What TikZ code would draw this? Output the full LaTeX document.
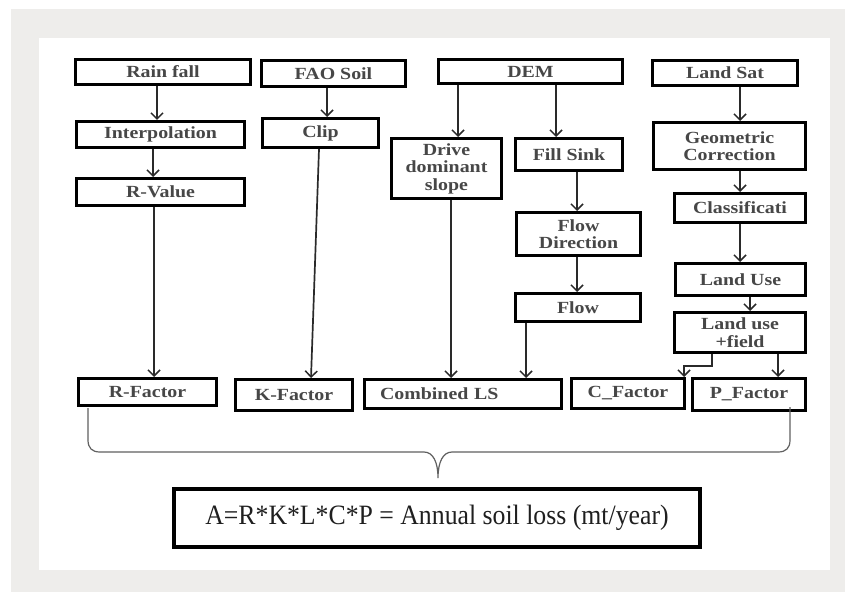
\documentclass[tikz,border=0pt]{standalone}
\usepackage{fontspec}
\usetikzlibrary{arrows.meta}
\newfontfamily\boxfont[FakeStretch=1.17]{Liberation Serif}
\newfontfamily\formfont[FakeStretch=0.92]{Liberation Serif}
\definecolor{bggray}{HTML}{EEEDEB}
\definecolor{txtgray}{HTML}{474747}
\definecolor{arrgray}{HTML}{2A2A2A}
\definecolor{bracegray}{HTML}{606060}
\tikzset{
  box/.style={draw=black, line width=3pt, inner sep=0pt, align=center, text=txtgray,
    font=\boxfont\bfseries\fontsize{17}{17.5}\selectfont},
  arr/.style={draw=arrgray, line width=1.7pt, -{Straight Barb[length=6pt,width=12pt,line width=1.5pt]}},
  bracestyle/.style={draw=bracegray, line width=1.2pt},
  formbox/.style={draw=black, line width=4.5pt, inner sep=0pt, text=black!88,
    font=\formfont\fontsize{28}{30}\selectfont}
}
\begin{document}
\begin{tikzpicture}[x=1pt,y=-1pt]
\useasboundingbox (0,0) rectangle (845,593);
\fill[bggray] (11,9) rectangle (845,592);
\fill[white] (39,38) rectangle (830,570);

% top row
\node[box, minimum width=175pt, minimum height=25pt] (rain) at (163,72) {Rain fall};
\node[box, minimum width=144pt, minimum height=26pt] (fao) at (333.5,73.5) {FAO Soil};
\node[box, minimum width=184pt, minimum height=24pt] (dem) at (530.5,71.5) {DEM};
\node[box, minimum width=145pt, minimum height=25pt] (landsat) at (725,73) {Land Sat};
% middle
\node[box, minimum width=168pt, minimum height=26pt] (interp) at (160.5,134.5) {Interpolation};
\node[box, minimum width=116pt, minimum height=29pt] (clip) at (320.5,133) {Clip};
\node[box, minimum width=168pt, minimum height=27pt] (rvalue) at (160.5,192) {R-Value};
\node[box, minimum width=110pt, minimum height=60pt] (drive) at (446.5,168.5) {Drive\\dominant\\slope};
\node[box, minimum width=107pt, minimum height=32pt] (fill) at (569,154.5) {Fill Sink};
\node[box, minimum width=152pt, minimum height=47pt] (geo) at (729.5,146) {Geometric\\Correction};
\node[box, minimum width=131pt, minimum height=29pt] (class) at (740,208) {Classificati};
\node[box, minimum width=124pt, minimum height=43pt] (flowdir) at (578.5,234) {Flow\\Direction};
\node[box, minimum width=130pt, minimum height=32pt] (landuse) at (740.5,279.5) {Land Use};
\node[box, minimum width=125pt, minimum height=28pt] (flow) at (578,307.5) {Flow};
\node[box, minimum width=131pt, minimum height=40pt] (luf) at (740,332.5) {Land use\\+field};
% factors
\node[box, minimum width=138pt, minimum height=27pt] (rf) at (147.5,392) {R-Factor};
\node[box, minimum width=117pt, minimum height=31pt] (kf) at (294,395) {K-Factor};
\node[box, minimum width=197pt, minimum height=29pt, text width=166pt, align=left] (ls) at (463,394) {Combined LS};
\node[box, minimum width=113pt, minimum height=30pt] (cf) at (628,393.5) {C\_Factor};
\node[box, minimum width=113pt, minimum height=32pt] (pf) at (749,394.5) {P\_Factor};
% formula
\node[formbox, minimum width=526pt, minimum height=58pt] (formula) at (437,518) {A=R*K*L*C*P = Annual soil loss (mt/year)};

% helper x positions
\coordinate (x157) at (157,0);
\coordinate (x153) at (153,0);
\coordinate (x154) at (154,0);
\coordinate (x327) at (327,0);
\coordinate (x319) at (319,0);
\coordinate (x311) at (311,0);
\coordinate (x458) at (458,0);
\coordinate (x556) at (556,0);
\coordinate (x451) at (451,0);
\coordinate (x577) at (577,0);
\coordinate (x526) at (526,0);
\coordinate (x740) at (740,0);
\coordinate (x750) at (750,0);
\coordinate (x778) at (778,0);
\coordinate (x712) at (712,0);
\coordinate (x684) at (684,0);
\coordinate (y366) at (0,366);

\draw[arr] (rain.south -| x157) -- (interp.north -| x157);
\draw[arr] (interp.south -| x153) -- (rvalue.north -| x153);
\draw[arr] (rvalue.south -| x154) -- (rf.north -| x154);
\draw[arr] (fao.south -| x327) -- (clip.north -| x327);
\draw[arr] (clip.south -| x319) -- (kf.north -| x311);
\draw[arr] (dem.south -| x458) -- (drive.north -| x458);
\draw[arr] (dem.south -| x556) -- (fill.north -| x556);
\draw[arr] (drive.south -| x451) -- (ls.north -| x451);
\draw[arr] (fill.south -| x577) -- (flowdir.north -| x577);
\draw[arr] (flowdir.south -| x577) -- (flow.north -| x577);
\draw[arr] (flow.south -| x526) -- (ls.north -| x526);
\draw[arr] (landsat.south -| x740) -- (geo.north -| x740);
\draw[arr] (geo.south -| x740) -- (class.north -| x740);
\draw[arr] (class.south -| x740) -- (landuse.north -| x740);
\draw[arr] (landuse.south -| x750) -- (luf.north -| x750);
\draw[arr] (luf.south -| x778) -- (pf.north -| x778);
\draw[arr] (luf.south -| x712) -- (x712 |- y366) -- (x684 |- y366) -- (cf.north -| x684);

% brace
\draw[bracestyle] (88,408) -- (88,440) .. controls (88,448) and (92,452) .. (100,452)
  -- (424,452) .. controls (433,452) and (438,462) .. (438,478)
  .. controls (438,462) and (443,452) .. (452,452)
  -- (778,452) .. controls (786,452) and (790,448) .. (790,440) -- (790,407);
\end{tikzpicture}
\end{document}
